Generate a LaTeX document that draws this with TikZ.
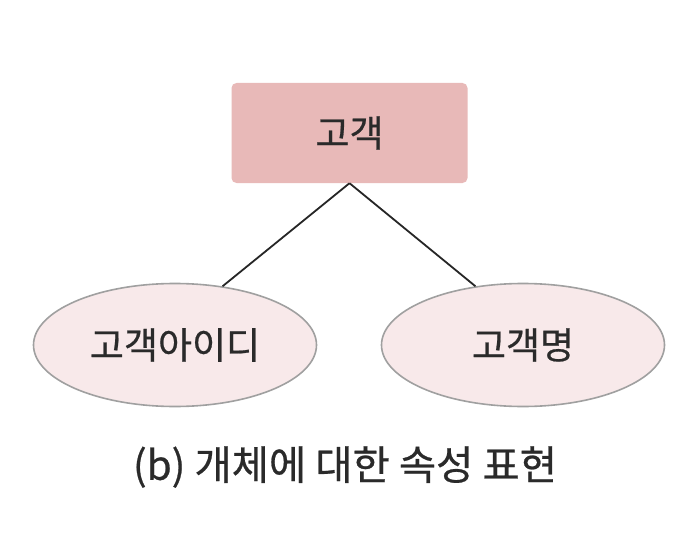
\documentclass[tikz,border=0pt]{standalone}
\usepackage{fontspec}
\setmainfont{Noto Sans CJK KR}[FakeBold=0.6]
\usetikzlibrary{shapes.geometric}
\definecolor{entfill}{HTML}{E8B9B8}
\definecolor{attfill}{HTML}{F8E9EA}
\definecolor{attline}{HTML}{A0A0A0}
\definecolor{txt}{HTML}{2A2A2A}
\tikzset{
  entity/.style={draw=none, fill=entfill, rounded corners=5pt, minimum width=236pt, minimum height=100pt, inner sep=0pt, text=txt, font=\fontsize{37}{42}\selectfont},
  attr/.style={ellipse, draw=attline, line width=1.6pt, fill=attfill, minimum width=283pt, minimum height=123pt, inner sep=0pt, text=txt, font=\fontsize{37}{42}\selectfont},
  link/.style={draw=black!85, line width=1.8pt},
}
\begin{document}
\begin{tikzpicture}[x=1pt,y=-1pt]
\useasboundingbox (0,0) rectangle (699,551);
\fill[white] (0,0) rectangle (699,551);
\node[entity] (cust) at (349.5,133) {고객};
\node[attr] (cid) at (175,345) {고객아이디};
\node[attr] (cname) at (523,345) {고객명};
\draw[link] (cust.south) -- (cid.51);
\draw[link] (cust.south) -- (cname.129);
\node[text=txt, font=\fontsize{40.5}{46}\selectfont, inner sep=0pt] (cap) at (345,467) {(b) 개체에 대한 속성 표현};
\end{tikzpicture}
\end{document}
